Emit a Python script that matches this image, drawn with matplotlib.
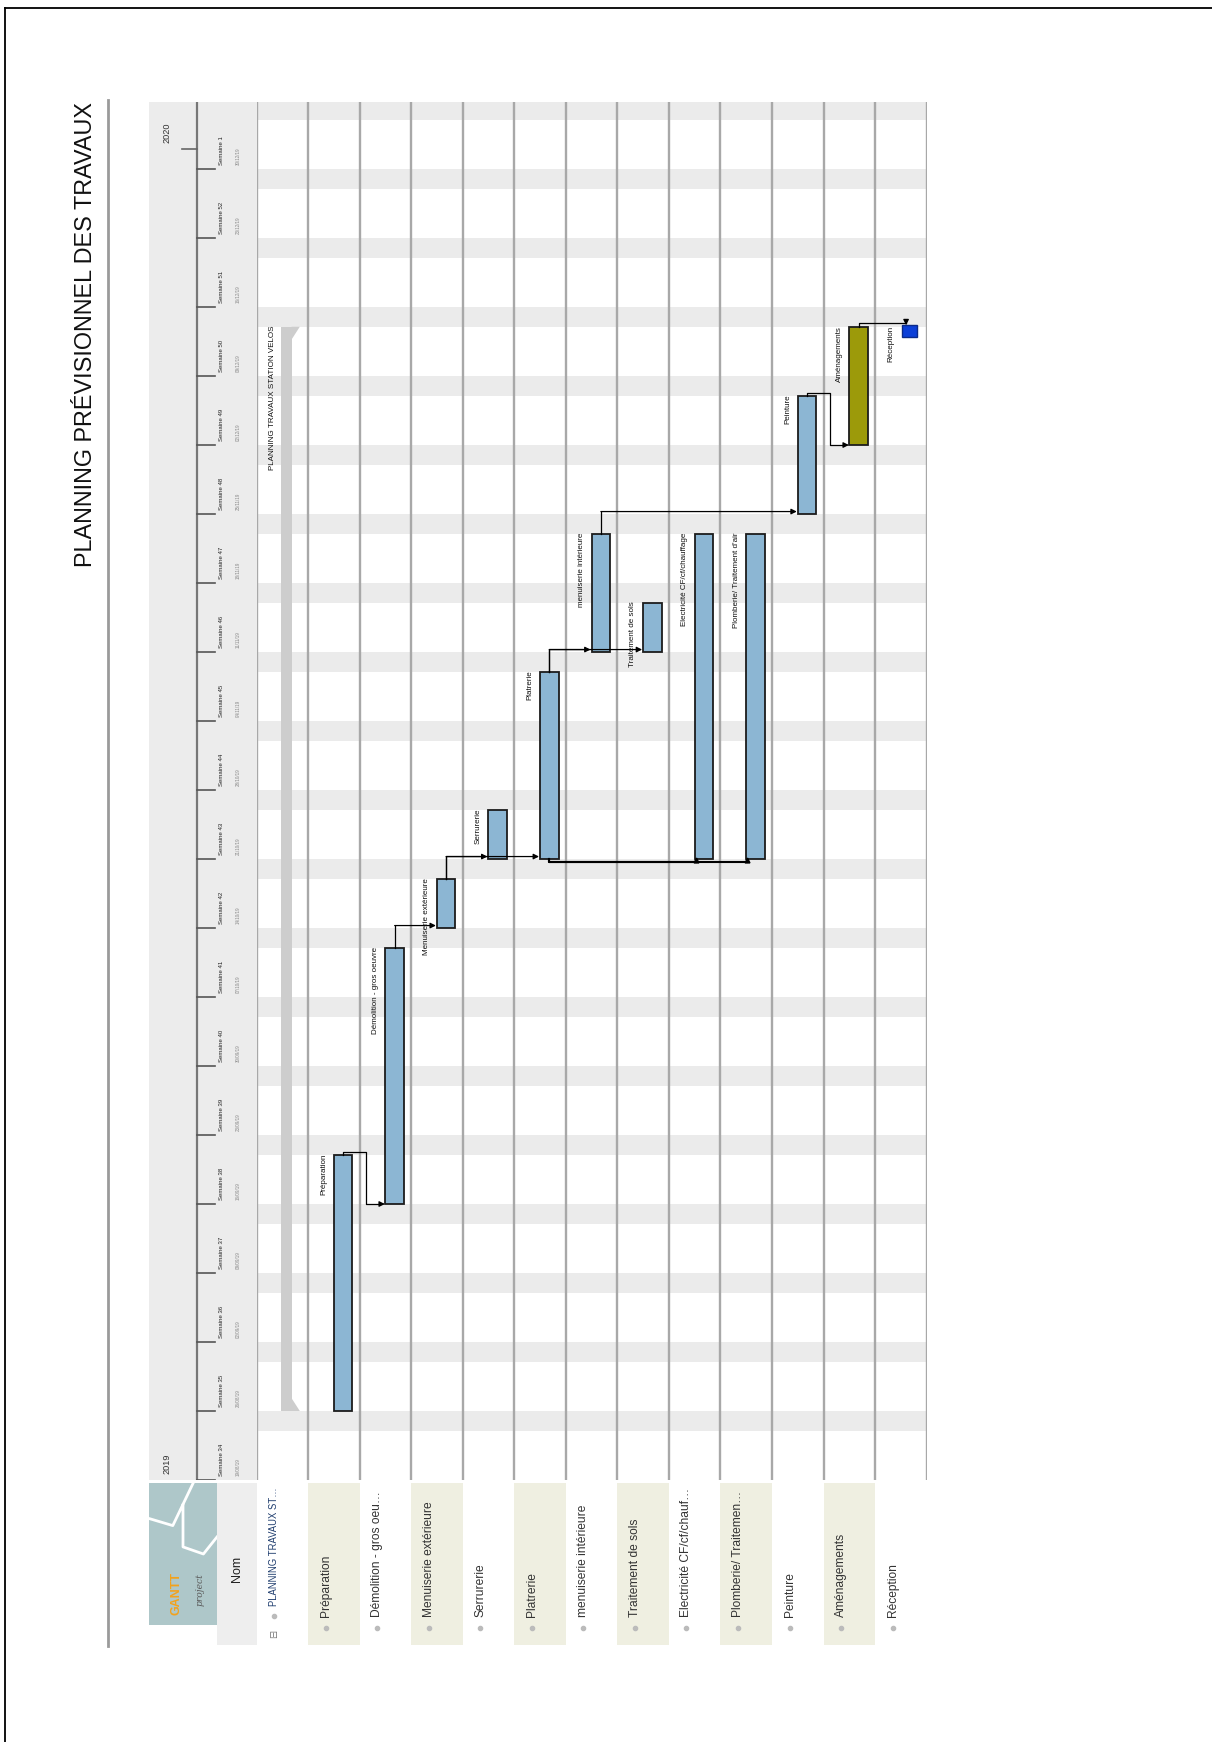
import matplotlib
matplotlib.use('Agg')
import matplotlib.pyplot as plt
from matplotlib import font_manager
from matplotlib.lines import Line2D

W, H = 1212, 1742

# ---- data ------------------------------------------------------------
# one row per task, row 0 is the summary task, last row is the milestone
bar_labels = ['PLANNING TRAVAUX STATION VELOS', 'Préparation', 'Démolition - gros oeuvre',
              'Menuiserie extérieure', 'Serrurerie', 'Platrerie', 'menuiserie intérieure',
              'Traitement de sols', 'Electricité CF/cf/chauffage', "Plomberie/ Traitement d'air",
              'Peinture', 'Aménagements', 'Réception']
table_labels = ['PLANNING TRAVAUX ST…', 'Préparation', 'Démolition - gros oeu…',
                'Menuiserie extérieure', 'Serrurerie', 'Platrerie', 'menuiserie intérieure',
                'Traitement de sols', 'Electricité CF/cf/chauf…', 'Plomberie/ Traitemen…',
                'Peinture', 'Aménagements', 'Réception']
# days counted from monday 19/08/19 (start of semaine 34)
start_day = [7, 7, 28, 56, 63, 63, 84, 84, 63, 63, 98, 105, 116]
end_day = [117, 33, 54, 61, 68, 82, 96, 89, 96, 96, 110, 117, 117]
summary_rows = [0]
milestone_rows = [12]

# finish -> start links, and start -> start links
fs_links = [(1, 2), (2, 3), (3, 4), (3, 5), (5, 6), (5, 7), (6, 10), (10, 11), (11, 12)]
ss_links = [(5, 8), (5, 9)]

week_nums = [34, 35, 36, 37, 38, 39, 40, 41, 42, 43, 44, 45, 46, 47, 48, 49, 50, 51, 52, 1]
week_dates = ['19/08/19', '26/08/19', '02/09/19', '09/09/19', '16/09/19', '23/09/19', '30/09/19',
              '07/10/19', '14/10/19', '21/10/19', '28/10/19', '04/11/19', '11/11/19', '18/11/19',
              '25/11/19', '02/12/19', '09/12/19', '16/12/19', '23/12/19', '30/12/19']
years = ['2019', '2020']
year_day = [0, 135]
last_day = 139.8

# ---- style -----------------------------------------------------------
names = {f.name for f in font_manager.fontManager.ttflist}
if 'Liberation Sans Narrow' in names:
    narrow, k = 'Liberation Sans Narrow', 1.0
else:
    narrow, k = 'Liberation Sans', 0.82
plt.rcParams['font.family'] = [narrow, 'DejaVu Sans']

bar_color = '#8cb6d3'
bar_colors = {'Aménagements': '#9c9a0a'}
band_color = '#ebebeb'
line_color = '#a8a8a8'


def box(x0, y0, x1, y1):
    return [x0 / W, 1 - y1 / H, (x1 - x0) / W, (y1 - y0) / H]


fig = plt.figure(figsize=(W / 100, H / 100), dpi=100)

# page frame + title
fig.add_artist(Line2D([5 / W, 1], [1 - 8 / H, 1 - 8 / H], transform=fig.transFigure, color='k', lw=1.3))
fig.add_artist(Line2D([5 / W, 5 / W], [0, 1 - 8 / H], transform=fig.transFigure, color='k', lw=1.3))
fig.add_artist(Line2D([108 / W, 108 / W], [1 - 100 / H, 1 - 1646 / H], transform=fig.transFigure,
                      color='#9a9a9a', lw=2))
fig.text(86 / W, 1 - 102 / H, 'PLANNING PRÉVISIONNEL DES TRAVAUX', rotation=90,
         ha='center', va='top', fontsize=20.5 * k, color='#111111')

# ---- gantt area ------------------------------------------------------
ax = fig.add_axes(box(256.5, 102, 926.7, 1480))
n = len(bar_labels)
ax.set_xlim(-0.5, n - 0.5)
ax.set_ylim(0, last_day)
ax.axis('off')

for w in range(-1, len(week_nums) + 1):
    ax.axhspan(7 * w + 5, 7 * w + 7, color=band_color, lw=0, zorder=0)
for i in range(n + 1):
    ax.axvline(i - 0.5, color=line_color, lw=1.7, zorder=1)

for i in range(n):
    s, e = start_day[i], end_day[i]
    if i in summary_rows:
        ax.bar(i + 0.08, e - s, bottom=s, width=0.2, color='#cdcdcd', lw=0, zorder=3)
        ax.fill([0.18 + i, 0.34 + i, 0.18 + i], [s, s, s + 1.3], color='#cdcdcd', lw=0, zorder=3)
        ax.fill([0.18 + i, 0.34 + i, 0.18 + i], [e, e, e - 1.3], color='#cdcdcd', lw=0, zorder=3)
    elif i in milestone_rows:
        ax.bar(i + 0.17, e - s + 0.15, bottom=s, width=0.3, color='#0b3fd8', edgecolor='#0a2a8a',
               lw=1, zorder=3)
    else:
        ax.bar(i + 0.18, e - s, bottom=s, width=0.36, color=bar_colors.get(bar_labels[i], bar_color),
               edgecolor='#1c1c1c', lw=1.3, zorder=3)
    ax.text(i - 0.13, e + 0.1, bar_labels[i], rotation=90, ha='right', va='top',
            fontsize=7 * k, color='#111111', zorder=5)


def arrow(x0, y0, x1, y1):
    ax.annotate('', xy=(x1, y1), xytext=(x0, y0),
                arrowprops=dict(arrowstyle='-|>', color='k', lw=0.9, mutation_scale=8,
                                shrinkA=0, shrinkB=0), zorder=4)


for p, s in fs_links:
    x0 = p + 0.18
    if s in milestone_rows:
        y = end_day[p] + 0.35
        xm = s + 0.1
        ax.plot([x0, x0, xm], [end_day[p], y, y], color='k', lw=0.9, zorder=4)
        arrow(xm, y + 0.3, xm, end_day[s] + 0.15)
    elif start_day[s] >= end_day[p]:
        y = start_day[s] + 0.25
        ax.plot([x0, x0], [end_day[p], y], color='k', lw=0.9, zorder=4)
        arrow(x0, y, s - 0.02, y)
    else:
        y = end_day[p] + 0.25
        xm = s - 0.38
        ax.plot([x0, x0, xm, xm, s - 0.1], [end_day[p], y, y, start_day[s], start_day[s]],
                color='k', lw=0.9, zorder=4)
        arrow(s - 0.1, start_day[s], s - 0.01, start_day[s])

for p, s in ss_links:
    y = start_day[s] - 0.3
    x0 = p + 0.18
    ax.plot([x0, x0, s + 0.02], [start_day[p], y, y], color='k', lw=1.5, zorder=4)
    ax.plot(s + 0.02, y + 0.15, marker='^', ms=3.5, color='k', zorder=4)

# ---- timeline header -------------------------------------------------
hd = fig.add_axes(box(149, 102, 256.5, 1480))
hd.set_xlim(0, 1)
hd.set_ylim(0, last_day)
hd.set_facecolor('#ececec')
hd.set_xticks([])
hd.set_yticks([])
for sp in hd.spines.values():
    sp.set_visible(False)
hd.axvline(0.445, color='#777777', lw=1.6)
for w, (num, dt) in enumerate(zip(week_nums, week_dates)):
    hd.plot([0.445, 0.615], [7 * w, 7 * w], color='#555555', lw=1.2)
    hd.text(0.675, 7 * w + 0.4, f'Semaine {num}', rotation=90, ha='center', va='bottom',
            fontsize=5.3 * k, color='#222222')
    hd.text(0.83, 7 * w + 0.4, dt, rotation=90, ha='center', va='bottom',
            fontsize=4 * k, color='#8a8a8a')
for yr, d in zip(years, year_day):
    if d > 0:
        hd.plot([0.31, 0.445], [d, d], color='#666666', lw=1.2)
    hd.text(0.17, d + 0.6, yr, rotation=90, ha='center', va='bottom', fontsize=8 * k, color='#333333')

# ---- task table ------------------------------------------------------
tb = fig.add_axes(box(256.5, 1483, 926.7, 1645))
tb.set_xlim(-0.5, n - 0.5)
tb.set_ylim(0, 1)
tb.axis('off')
for i in range(n):
    if i % 2 == 1:
        tb.axvspan(i - 0.5, i + 0.5, color='#efefe1', lw=0)
    if i in summary_rows:
        tb.text(i - 0.16, 0.07, '⊟', rotation=90, ha='center', va='center', fontsize=7,
                color='#777777', family='DejaVu Sans')
        tb.plot(i - 0.16, 0.176, 'o', ms=3, color='#bbbbbb')
        tb.text(i - 0.16, 0.24, table_labels[i], rotation=90, ha='center', va='bottom',
                fontsize=8.4 * k, color='#1f3d6e')
    else:
        tb.plot(i - 0.16, 0.107, 'o', ms=3, color='#bbbbbb')
        tb.text(i - 0.16, 0.17, table_labels[i], rotation=90, ha='center', va='bottom',
                fontsize=10.5 * k, color='#333333')

nm = fig.add_axes(box(217, 1483, 256.5, 1645))
nm.set_xlim(0, 1)
nm.set_ylim(0, 1)
nm.set_facecolor('#eeeeee')
nm.set_xticks([])
nm.set_yticks([])
for sp in nm.spines.values():
    sp.set_visible(False)
nm.text(0.5, 0.47, 'Nom', rotation=90, ha='center', va='center', fontsize=11 * k, color='#222222')

# logo block
lg = fig.add_axes(box(149, 1483, 217, 1625))
lg.set_xlim(0, 1)
lg.set_ylim(0, 1)
lg.set_facecolor('#aec7c9')
lg.set_xticks([])
lg.set_yticks([])
for sp in lg.spines.values():
    sp.set_visible(False)
lg.plot([0.0, 0.35, 0.5, 0.5, 0.8, 1.0], [0.75, 0.7, 0.85, 0.55, 0.5, 0.62], color='white', lw=2)
lg.plot([0.5, 0.65], [0.85, 1.0], color='white', lw=2)
lg.text(0.4, 0.22, 'GANTT', rotation=90, ha='center', va='center', fontsize=11 * k,
        color='#f3a21c', fontweight='bold')
lg.text(0.75, 0.25, 'project', rotation=90, ha='center', va='center', fontsize=8 * k,
        color='#5a5a5a', style='italic', family='DejaVu Serif')

fig.savefig('out.png', dpi=100)
